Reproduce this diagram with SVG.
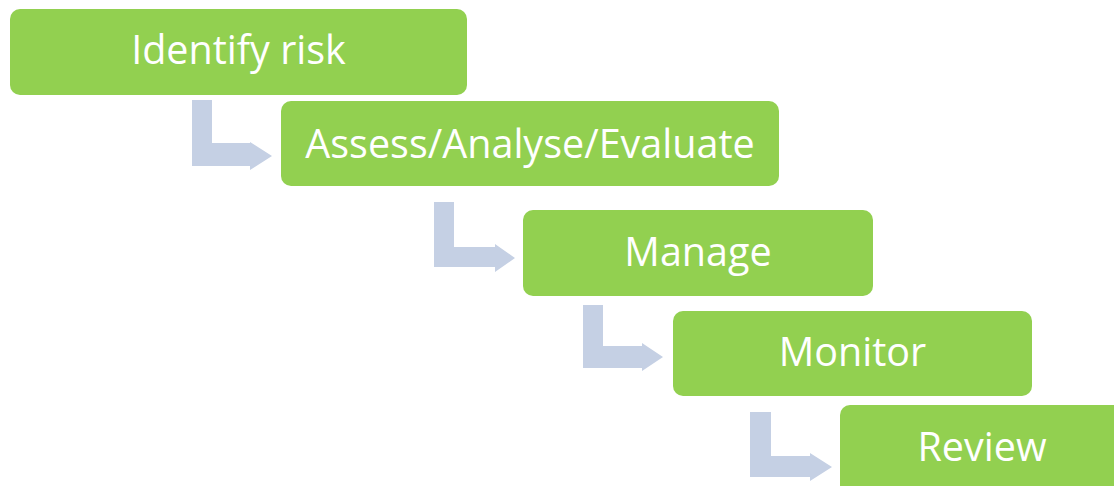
<svg xmlns="http://www.w3.org/2000/svg" width="1114" height="486" viewBox="0 0 1114 486">
<style>
.box{fill:#92D050}
.lbl{fill:#FFFFFF;font-family:"Open Sans","Liberation Sans",sans-serif;font-size:39.5px;text-anchor:middle}
.arr{fill:#C5D0E4}
</style>
<rect width="1114" height="486" fill="#FFFFFF"/>
<g id="connectors">
<path class="arr" d="M192,100 H212 V143 H250 V142 L272,156 L250,170 V166 H192 Z"/>
<path class="arr" d="M434,202 H454 V247 H495 V244 L515,258 L495,272 V267 H434 Z"/>
<path class="arr" d="M583,305 H603 V346 H642 V343 L663,357 L642,371 V368 H583 Z"/>
<path class="arr" d="M750,412 H771 V456 H810 V453 L832,467 L810,481 V477 H750 Z"/>
</g>
<g id="node-identify">
<rect class="box" x="10" y="9" width="457" height="86" rx="10"/>
<text class="lbl" x="238.5" y="64">Identify risk</text>
</g>
<g id="node-assess">
<rect class="box" x="281" y="101" width="498" height="85" rx="10"/>
<text class="lbl" x="530" y="158">Assess/Analyse/Evaluate</text>
</g>
<g id="node-manage">
<rect class="box" x="523" y="210" width="350" height="86" rx="10"/>
<text class="lbl" x="698" y="266">Manage</text>
</g>
<g id="node-monitor">
<rect class="box" x="673" y="311" width="359" height="85" rx="10"/>
<text class="lbl" x="852.5" y="366">Monitor</text>
</g>
<g id="node-review">
<rect class="box" x="840" y="405" width="290" height="95" rx="10"/>
<text class="lbl" x="982" y="461">Review</text>
</g>
</svg>
